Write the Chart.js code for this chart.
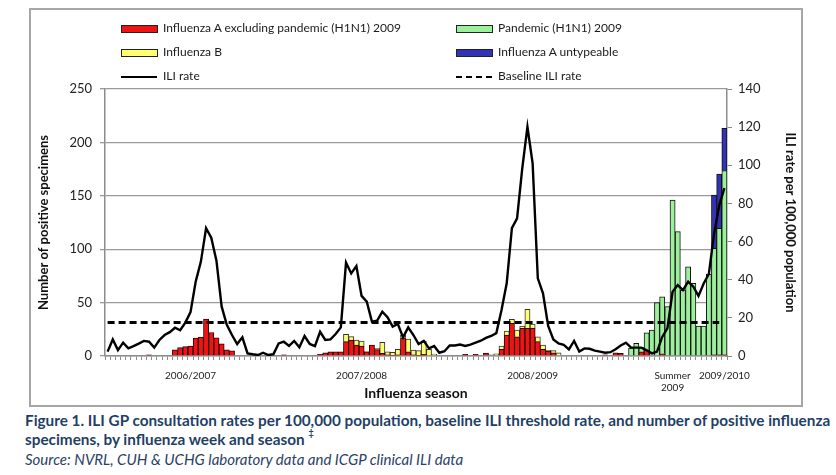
<!DOCTYPE html>
<html>
<head>
<meta charset="utf-8">
<script src="https://cdn.jsdelivr.net/npm/chart.js@4.4.1/dist/chart.umd.min.js"></script>
<style>
  body { margin: 0; background: #fff; width: 836px; height: 475px; position: relative; overflow: hidden; font-family: Lato, "Open Sans", sans-serif; }
  #frame { position: absolute; left: 29px; top: 8px; width: 770px; height: 395px; border: 2px solid #a6a6a6; }
  #wrap { position: absolute; left: 0; top: 0; width: 836px; height: 410px; }
  .leg { position: absolute; font-size: 12px; color: #1a1a1a; white-space: nowrap; line-height: 14px; }
  .sw { position: absolute; }
  .cap { position: absolute; left: 25px; white-space: nowrap; color: #1f3f66; }
  #cap1, #cap2 { font-weight: bold; font-size: 15.3px; line-height: 19px; }
  #cap1 { top: 411px; }
  #cap2 { top: 430px; }
  #cap2 sup { font-size: 9px; position: relative; top: -3px; line-height: 0; }
  #src { top: 450px; font-style: italic; font-size: 15px; line-height: 19px; color: #2a4266; }
</style>
</head>
<body>
<div id="frame"></div>
<div id="wrap"><canvas id="fluChart" width="836" height="410"></canvas></div>
<div id="legend"></div>
<div class="cap" id="cap1">Figure 1. ILI GP consultation rates per 100,000 population, baseline ILI threshold rate, and number of positive influenza</div>
<div class="cap" id="cap2">specimens, by influenza week and season <sup>‡</sup></div>
<div class="cap" id="src">Source: NVRL, CUH &amp; UCHG laboratory data and ICGP clinical ILI data</div>
<script>
// influenza weeks: 2006/07, 2007/08, 2008/09 seasons (wk 40-20), summer 2009, start of 2009/10
const weekNumbers = [
  40, 41, 42, 43, 44, 45, 46, 47, 48, 49, 50, 51, 52, 1, 2, 3, 4, 5, 6, 7, 8, 9, 10, 11, 12, 13, 14, 15, 16, 17, 18, 19, 20,
  40, 41, 42, 43, 44, 45, 46, 47, 48, 49, 50, 51, 52, 1, 2, 3, 4, 5, 6, 7, 8, 9, 10, 11, 12, 13, 14, 15, 16, 17, 18, 19, 20,
  40, 41, 42, 43, 44, 45, 46, 47, 48, 49, 50, 51, 52, 1, 2, 3, 4, 5, 6, 7, 8, 9, 10, 11, 12, 13, 14, 15, 16, 17, 18, 19, 20,
  21, 22, 23, 24, 25, 26, 27, 28, 29, 30, 31, 32, 33, 34, 35, 36, 37, 38, 39,
  40, 41
];

const seasonNames = ["2006/2007", "2007/2008", "2008/2009", ["Summer", "2009"], "2009/2010"];
const seasonLabelWeek = [16, 49, 82, 109, 119];

// positive specimens (left axis)
const influenzaA = [
  0, 0, 0, 0, 0, 0, 0, 0, 1, 0,
  0, 0, 0, 5.8, 7.8, 8.8, 9.3, 16.7, 17.8, 34.5,
  22, 17, 11.5, 5.8, 4.8, 0, 0, 0, 0, 0,
  0, 0, 0, 0, 1, 0, 0, 0, 0, 0,
  0, 1.6, 3, 4, 4, 4, 13.4, 15, 10.3, 9.4,
  4, 10.3, 6, 2.5, 1, 0.5, 1, 17, 4, 1,
  0.5, 1.5, 0, 0, 0, 0, 0, 0, 0, 1.6,
  0, 1.6, 0, 2.8, 0, 0, 6.2, 19.7, 30.6, 18,
  25.9, 25.9, 25.9, 13.4, 6.2, 4.7, 3, 0, 0, 0,
  0, 0, 0, 0, 0, 0, 1, 0, 3, 2.5,
  0, 0, 0, 4, 5.6, 0, 0, 2, 0, 0,
  0, 0, 0, 0, 0, 0, 0, 1, 1, 1
];

const pandemicH1N1 = [
  0, 0, 0, 0, 0, 0, 0, 0, 0, 0,
  0, 0, 0, 0, 0, 0, 0, 0, 0, 0,
  0, 0, 0, 0, 0, 0, 0, 0, 0, 0,
  0, 0, 0, 0, 0, 0, 0, 0, 0, 0,
  0, 0, 0, 0, 0, 0, 0, 0, 0, 0,
  0, 0, 0, 0, 0, 0, 0, 0, 0, 0,
  0, 0, 0, 0, 0, 0, 0, 0, 0, 0,
  0, 0, 0, 0, 0, 0, 0, 0, 0, 0,
  0, 0, 0, 0, 0, 0, 0, 0, 0, 0,
  0, 0, 0, 0, 0, 0, 0, 0, 0, 0,
  0, 7.5, 11.9, 4, 16, 24.3, 50, 53.5, 46.2, 146,
  116.4, 61.8, 83.6, 68, 28.1, 28.1, 76.8, 99.8, 118.6, 172.5
];

const influenzaB = [
  0, 0, 0, 0, 0, 0, 0, 0, 0, 0,
  0, 0, 0, 0, 0, 0, 0, 0, 0, 0,
  0, 0, 0, 0, 0, 0, 0, 0, 0, 0,
  0, 0, 0, 0, 0, 0, 0, 0, 0, 0,
  0, 0, 0, 0, 0, 0, 6.9, 3.1, 4.7, 4.6,
  0.7, 0, 1.2, 10.3, 3, 2.9, 5.2, 2.7, 11.9, 4.6,
  4.5, 12.5, 6.2, 1.9, 0, 0, 0, 0, 0, 0,
  0, 0, 0, 0, 1, 2, 3.2, 3.7, 3.7, 6.3,
  2.2, 17.8, 4.1, 4.6, 4.1, 0.5, 2, 3, 0, 0,
  0, 0, 0, 0, 0, 0, 0, 0, 0, 0,
  0, 0, 0, 0, 0, 0, 0, 0, 0, 0,
  0, 0, 0, 0, 0, 0, 0, 0, 0, 0
];

const untypeableA = [
  0, 0, 0, 0, 0, 0, 0, 0, 0, 0,
  0, 0, 0, 0, 0, 0, 0, 0, 0, 0,
  0, 0, 0, 0, 0, 0, 0, 0, 0, 0,
  0, 0, 0, 0, 0, 0, 0, 0, 0, 0,
  0, 0, 0, 0, 0, 0, 0, 0, 0, 0,
  0, 0, 0, 0, 0, 0, 0, 0, 0, 0,
  0, 0, 0, 0, 0, 0, 0, 0, 0, 0,
  0, 0, 0, 0, 0, 0, 0, 0, 0, 0,
  0, 0, 0, 0, 0, 0, 0, 0, 0, 0,
  0, 0, 0, 0, 0, 0, 0, 0, 0, 0,
  0, 0, 0, 0, 0, 0, 0, 0, 0, 0,
  0, 0, 0, 0, 0, 0, 0, 49.9, 50.8, 39.7
];

// ILI rate per 100,000 (right axis)
const iliRate = [
  2.3, 8.7, 3.1, 7.0, 4.0, 5.2, 6.5, 7.9, 7.5, 4.4,
  8.4, 11.0, 12.5, 14.8, 13.5, 17.5, 23.0, 39.0, 49.5, 67.0,
  62.0, 50.0, 26.0, 16.3, 11.0, 6.3, 9.8, 1.4, 0.9, 0.5,
  1.7, 0.5, 1.0, 6.6, 7.5, 5.3, 7.9, 4.6, 10.5, 6.3,
  5.2, 12.7, 8.4, 8.7, 11.5, 15.0, 49.0, 43.3, 47.2, 31.5,
  28.5, 18.0, 18.5, 23.2, 20.3, 15.4, 16.8, 9.8, 15.0, 11.0,
  6.3, 7.9, 4.0, 5.2, 1.7, 2.5, 5.5, 5.5, 6.0, 5.3,
  6.0, 7.0, 8.0, 9.5, 10.5, 12.0, 24.1, 38.1, 67.0, 72.2,
  98.4, 120.2, 101.0, 40.7, 32.9, 15.7, 8.7, 6.6, 5.8, 3.5,
  7.9, 2.3, 4.0, 3.8, 2.8, 2.3, 1.7, 2.0, 3.5, 5.5,
  7.0, 4.4, 4.4, 4.4, 3.0, 1.4, 2.3, 10.0, 14.5, 33.7,
  37.2, 34.6, 39.0, 36.3, 31.5, 38.0, 43.0, 64.0, 79.0, 88.0
];

const baselineRate = 17.6;

Chart.defaults.font.family = "Lato, 'Open Sans', sans-serif";

const nz = arr => arr.map(v => (v === 0 ? null : v));
const baseline = weekNumbers.map((w, i) => (i < weekNumbers.length - 1 ? baselineRate : null));

const ctx = document.getElementById("fluChart");

const datasets = [
  {
    type: "line",
    label: "ILI rate",
    data: iliRate,
    yAxisID: "y2",
    borderColor: "#000",
    borderWidth: 2.4,
    pointRadius: 0,
    tension: 0,
    order: 0,
  },
  {
    type: "line",
    label: "Baseline ILI rate",
    data: baseline,
    yAxisID: "y2",
    borderColor: "#000",
    borderWidth: 3,
    borderDash: [7, 4],
    pointRadius: 0,
    order: 0,
  },
  {
    label: "Influenza A excluding pandemic (H1N1) 2009",
    data: nz(influenzaA),
    backgroundColor: "#ee1414",
    borderColor: "#2a0000",
    borderWidth: 1,
    order: 1,
  },
  {
    label: "Pandemic (H1N1) 2009",
    data: nz(pandemicH1N1),
    backgroundColor: "#9cf09c",
    borderColor: "#111",
    borderWidth: 1,
    order: 1,
  },
  {
    label: "Influenza B",
    data: nz(influenzaB),
    backgroundColor: "#ffff70",
    borderColor: "#333",
    borderWidth: 1,
    order: 1,
  },
  {
    label: "Influenza A untypeable",
    data: nz(untypeableA),
    backgroundColor: "#3232b4",
    borderColor: "#111",
    borderWidth: 1,
    order: 1,
  },
];

const fluChart = new Chart(ctx, {
  type: "bar",
  data: { labels: weekNumbers, datasets: datasets },
  options: {
    responsive: false,
    animation: false,
    barPercentage: 1,
    categoryPercentage: 1,
    layout: { padding: { left: 30, right: 36, top: 89, bottom: 8 } },
    plugins: { legend: { display: false }, tooltip: { enabled: false } },
    scales: {
      x: {
        stacked: true,
        offset: true,
        grid: { offset: true, drawOnChartArea: false, drawTicks: true, tickLength: 4, color: "#8c8c8c" },
        border: { color: "#8c8c8c", width: 1.5 },
        ticks: {
          autoSkip: false,
          maxRotation: 0,
          padding: 10,
          color: "#222",
          font: { size: 10 },
          callback: function (value, index) {
            const k = seasonLabelWeek.indexOf(index);
            return k >= 0 ? seasonNames[k] : "";
          },
        },
        title: { display: true, text: "Influenza season", color: "#111", font: { size: 14, weight: "bold" }, padding: 0 },
        afterFit: function (scale) { scale.height = 46; },
      },
      y: {
        stacked: true,
        min: 0,
        max: 250,
        ticks: { stepSize: 50, padding: 8, color: "#222", font: { size: 13 } },
        grid: { color: "#9a9a9a", lineWidth: 1.3, tickLength: 5 },
        border: { color: "#8c8c8c", width: 1.5 },
        title: { display: true, text: "Number of positive specimens", color: "#111", font: { size: 13, weight: "bold" }, padding: { top: 6, bottom: 0 } },
        afterFit: function (scale) { scale.width = 75; },
      },
      y2: {
        position: "right",
        min: 0,
        max: 140,
        ticks: { stepSize: 20, padding: 6, color: "#222", font: { size: 13 } },
        grid: { drawOnChartArea: false, tickLength: 5, color: "#8c8c8c" },
        border: { color: "#8c8c8c", width: 1.5 },
        title: { display: true, text: "ILI rate per 100,000 population", color: "#111", font: { size: 13, weight: "bold" }, padding: { top: 2, bottom: 0 } },
        afterFit: function (scale) { scale.width = 73; },
      },
    },
  },
});

// two-column legend as in the original figure
const legendSlots = [
  { label: datasets[2].label, col: 0, row: 0 },
  { label: datasets[3].label, col: 1, row: 0 },
  { label: datasets[4].label, col: 0, row: 1 },
  { label: datasets[5].label, col: 1, row: 1 },
  { label: datasets[0].label, col: 0, row: 2 },
  { label: datasets[1].label, col: 1, row: 2 },
];
const legendEl = document.getElementById("legend");
legendSlots.forEach(function (slot) {
  const ds = datasets.find(d => d.label === slot.label);
  const x0 = slot.col === 0 ? 121 : 456;
  const yc = [29, 53, 77][slot.row];
  const sw = document.createElement("div");
  sw.className = "sw";
  sw.style.left = x0 + "px";
  if (ds.type === "line") {
    sw.style.width = "36px";
    sw.style.top = (yc - 1) + "px";
    sw.style.height = "0";
    sw.style.borderTop = ds.borderDash ? "2.5px dashed #000" : "2.5px solid #000";
  } else {
    sw.style.width = "35px";
    sw.style.height = "6px";
    sw.style.top = (yc - 4) + "px";
    sw.style.background = ds.backgroundColor;
    sw.style.border = "1px solid #222";
  }
  legendEl.appendChild(sw);
  const tx = document.createElement("div");
  tx.className = "leg";
  tx.textContent = ds.label;
  tx.style.left = (x0 + 42) + "px";
  tx.style.top = (yc - 8) + "px";
  legendEl.appendChild(tx);
});
</script>
</body>
</html>
